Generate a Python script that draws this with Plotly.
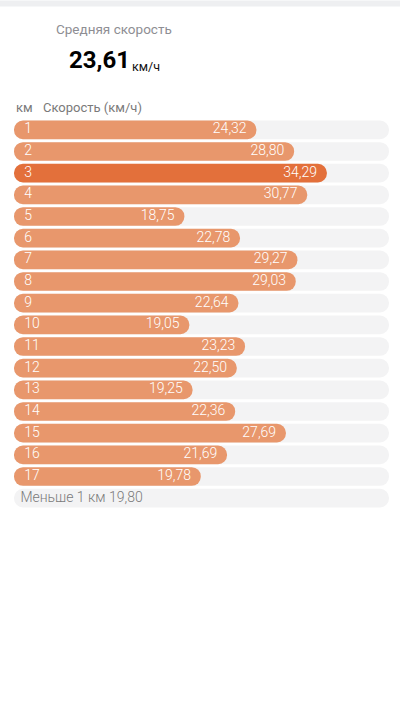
import plotly.graph_objects as go

# speed per km (km/h)
km = list(range(1, 18))
speed = [24.32, 28.80, 34.29, 30.77, 18.75, 22.78, 29.27, 29.03, 22.64,
         19.05, 23.23, 22.50, 19.25, 22.36, 27.69, 21.69, 19.78]
last_label = "Меньше 1 км"
last_speed = 19.80
avg_speed = 23.61

# the app scales bars by pace (min/km), so plot pace on a reversed axis
pace = [60 / v for v in speed]
X_LEFT, X_RIGHT = 4.934, 1.118
n_rows = len(km) + 1
rows = list(range(1, n_rows + 1))

W, H = 400, 718
ML, MR, MT, MB = 14, 11.3, 118.7, 208.7


def fmt(v):
    return f"{v:.2f}".replace(".", ",")


def px(x, y):
    # pixel -> paper coords, for header texts
    return (x - ML) / (W - ML - MR), (H - MB - y) / (H - MT - MB)


light = "#E8976C"
dark = "#E3703B"
colors = [dark if v == max(speed) else light for v in speed]
track = "#F3F3F4"

fig = go.Figure()

# background tracks
fig.add_trace(go.Bar(y=rows, x=[X_RIGHT - X_LEFT] * n_rows, base=[X_LEFT] * n_rows,
                     orientation="h", width=0.86, marker=dict(color=track, cornerradius=9, line_width=0)))

# speed bars
fig.add_trace(go.Bar(y=km, x=[p - X_LEFT for p in pace], base=[X_LEFT] * len(km),
                     orientation="h", width=0.86, marker=dict(color=colors, cornerradius=9, line_width=0)))

# labels
fig.add_trace(go.Scatter(y=km, x=[X_LEFT - 0.105] * len(km), mode="text",
                         text=[str(k) for k in km], textposition="middle right",
                         textfont=dict(color="white", size=14, family="Roboto", weight=300)))
fig.add_trace(go.Scatter(y=km, x=[p + 0.1 for p in pace], mode="text",
                         text=[fmt(v) for v in speed], textposition="middle left",
                         textfont=dict(color="white", size=14, family="Roboto", weight=300)))
fig.add_trace(go.Scatter(y=[n_rows], x=[X_LEFT - 0.065], mode="text",
                         text=[f"{last_label} {fmt(last_speed)}"], textposition="middle right",
                         textfont=dict(color="#7A7A7A", size=14, family="Roboto", weight=300)))

# header
annots = [
    ("Средняя скорость", 114, 29, 13.5, "#8E8E93", "center", 400),
    (fmt(avg_speed), 67, 60, 24, "#000000", "left", 700),
    ("км/ч", 130, 66, 12.5, "#111111", "left", 400),
    ("км", 14, 107, 13, "#7A7A7A", "left", 400),
    ("Скорость (км/ч)", 41, 107, 13, "#7A7A7A", "left", 400),
]
for text, x, y, size, color, anchor, weight in annots:
    ax, ay = px(x, y)
    fig.add_annotation(text=text, x=ax, y=ay, xref="paper", yref="paper",
                       xanchor=anchor, yanchor="middle", showarrow=False,
                       font=dict(size=size, color=color, family="Roboto", weight=weight))

# grey strip at the very top
fig.add_shape(type="rect", xref="paper", yref="paper", x0=px(0, 0)[0], x1=px(400, 0)[0],
              y0=px(0, 6)[1], y1=px(0, 0)[1], fillcolor="#EEEFF1", line_width=0)

fig.update_layout(
    width=W, height=H,
    margin=dict(l=ML, r=MR, t=MT, b=MB, pad=0),
    barmode="overlay",
    showlegend=False,
    plot_bgcolor="white", paper_bgcolor="white",
    hovermode=False,
    font=dict(family="Roboto"),
)
fig.update_xaxes(range=[X_LEFT, X_RIGHT], visible=False, fixedrange=True)
fig.update_yaxes(range=[n_rows + 0.5, 0.5], visible=False, fixedrange=True)

fig.write_html("out.html", config={"displayModeBar": False},
               post_script="document.body.style.margin='0';")
